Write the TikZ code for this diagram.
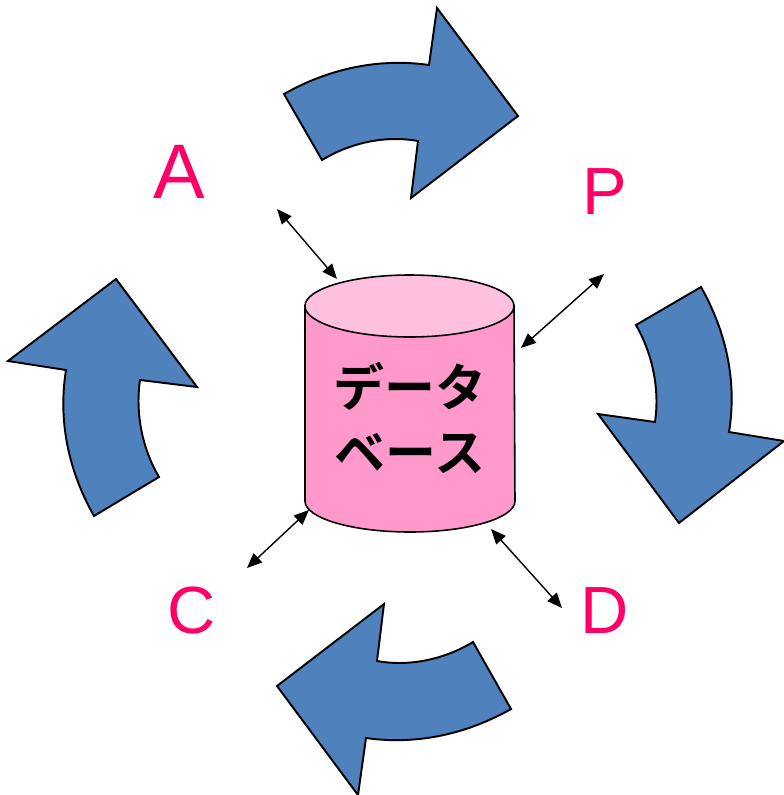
\documentclass[tikz,border=0pt]{standalone}
\usepackage{fontspec}
\setmainfont{Liberation Sans}
\newfontfamily\cjk{Noto Sans CJK JP Bold}
\usepackage{xcolor}
\usetikzlibrary{arrows.meta}
\definecolor{arrowblue}{HTML}{4F81BD}
\definecolor{dbpink}{HTML}{FF99CC}
\definecolor{dbtop}{HTML}{FFBFDF}
\definecolor{labelred}{HTML}{FF0066}
\tikzset{
  blockarrow/.style={draw=black,fill=arrowblue,line width=1.1pt,line join=miter},
  dbline/.style={draw=black,line width=0.9pt},
  linkarrow/.style={{Triangle[length=0.3cm,width=0.25cm]}-{Triangle[length=0.3cm,width=0.25cm]},line width=0.8pt},
  bigletter/.style={text=labelred,inner sep=0pt,font=\fontsize{38}{44}\selectfont}
}
\begin{document}
\begin{tikzpicture}[x=0.02cm,y=-0.02cm]
\useasboundingbox (0,0) rectangle (784,795);
\draw[blockarrow](284,94) .. controls (330,68) and (380,58) .. (429,65)--(437,8)--(518,116)--(411,198)--(418,141) .. controls (385,135) and (350,143) .. (322,160)--cycle;
\draw[blockarrow](701,287) .. controls (727,333) and (737,383) .. (729,432)--(784,441)--(679,523)--(598,414)--(655,422) .. controls (660,388) and (652,353) .. (636,325)--cycle;
\draw[blockarrow](511,709) .. controls (465,735) and (415,745) .. (366,738)--(358,795)--(277,686)--(384,604)--(377,661) .. controls (410,667) and (445,659) .. (473,642)--cycle;
\draw[blockarrow](94,516) .. controls (68,470) and (58,420) .. (66,370)--(8,361)--(116,279)--(197,387)--(140,380) .. controls (135,415) and (143,450) .. (159,477)--cycle;
\path[dbline,fill=dbpink](305,306)--(305,501) arc[start angle=180,end angle=0,x radius=105,y radius=31]--(514,306)--cycle;
\path[dbline,fill=dbtop](409.5,306) ellipse[x radius=104.5,y radius=31];
\node[inner sep=0pt,align=center,font=\cjk\fontsize{29}{37}\selectfont] (db) at (410,418) {データ\\ベース};
\node[bigletter,font=\fontsize{44}{50}\selectfont] (a) at (179,172) {A};
\node[bigletter] (p) at (605,192) {P};
\node[bigletter] (c) at (192,611) {C};
\node[bigletter] (d) at (605,611) {D};
\coordinate (aend) at (277,209);
\coordinate (atop) at (337,279);
\coordinate (pend) at (604,274);
\coordinate (pside) at (521,348);
\coordinate (cend) at (247,568);
\coordinate (cside) at (309,510);
\coordinate (dend) at (562,608);
\coordinate (dside) at (491,529);
\draw[linkarrow](aend)--(atop);
\draw[linkarrow](pend)--(pside);
\draw[linkarrow](cend)--(cside);
\draw[linkarrow](dend)--(dside);
\end{tikzpicture}
\end{document}
